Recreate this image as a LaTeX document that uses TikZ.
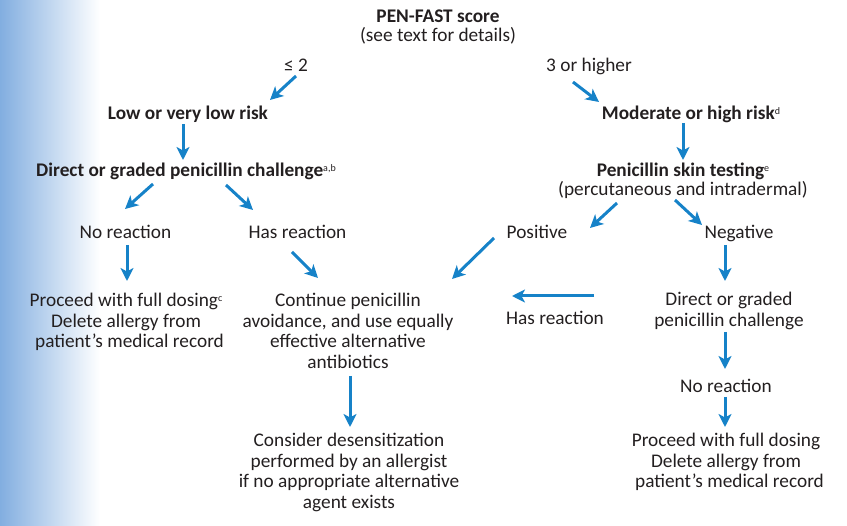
\documentclass[tikz,border=0pt]{standalone}
\usepackage{fontspec}
\setmainfont{Carlito}
\usetikzlibrary{arrows.meta}
\definecolor{arrblue}{RGB}{22,130,200}
\definecolor{gradblue}{RGB}{130,174,224}
\definecolor{txt}{RGB}{35,31,32}
\newcommand\supmark[1]{\raisebox{0.62ex}{\fontsize{10}{10}\selectfont\mdseries #1}}
\tikzset{
  arr/.style={draw=arrblue, line width=3pt, -{Stealth[length=13pt,width=13pt,inset=3.5pt]}},
  lbl/.style={text=txt, inner sep=0pt, anchor=base, align=center, font=\fontsize{19.3}{20.5}\selectfont},
  blbl/.style={lbl, font=\fontsize{19.3}{20.5}\selectfont\bfseries},
}
\begin{document}
\begin{tikzpicture}[x=1pt,y=-1pt]
\useasboundingbox (0,0) rectangle (847,526);
\shade[left color=gradblue, right color=white] (0,0) rectangle (100,526);

% text nodes (multi-line nodes are placed at the baseline of their last line)
\node[lbl, font=\fontsize{19.3}{19}\selectfont] (title) at (438,42) {\textbf{PEN-FAST score}\\(see text for details)};
\node[lbl] (le2) at (296,72) {≤ 2};
\node[lbl] (ge3) at (589,72) {3 or higher};
\node[blbl] (low) at (188,120) {Low or very low risk};
\node[blbl] (mod) at (691,120) {Moderate or high risk\supmark{d}};
\node[blbl] (dgl) at (186,177) {Direct or graded penicillin challenge\supmark{a,b}};
\node[lbl, font=\fontsize{19.3}{18.5}\selectfont] (skin) at (683,195.5) {\textbf{Penicillin skin testing}\supmark{e}\\(percutaneous and intradermal)};
\node[lbl] (nrl) at (125.5,239) {No reaction};
\node[lbl] (hrl) at (297.5,239) {Has reaction};
\node[lbl] (pos) at (537,239) {Positive};
\node[lbl] (neg) at (739,239) {Negative};
\node[lbl] (pfl) at (126,348) {Proceed with full dosing\supmark{c}\\Delete allergy from\\\hspace*{7pt}patient’s medical record};
\node[lbl] (cont) at (348,368.5) {Continue penicillin\\avoidance, and use equally\\effective alternative\\antibiotics};
\node[lbl] (hrr) at (555,325) {Has reaction};
\node[lbl] (dgr) at (729,326.5) {Direct or graded\\penicillin challenge};
\node[lbl] (nrr) at (726,393) {No reaction};
\node[lbl] (cons) at (349,508.5) {Consider desensitization\\performed by an allergist\\if no appropriate alternative\\agent exists};
\node[lbl] (pfr) at (726,488) {Proceed with full dosing\\Delete allergy from\\\hspace*{7pt}patient’s medical record};

% arrow end points
\coordinate (a1s) at (296,76);  \coordinate (a1e) at (270,100);
\coordinate (a2s) at (573,82);  \coordinate (a2e) at (599,102);
\coordinate (a3s) at (183,124); \coordinate (a3e) at (183,160);
\coordinate (a4s) at (683,123); \coordinate (a4e) at (683,160);
\coordinate (a5s) at (153,184); \coordinate (a5e) at (125,209);
\coordinate (a6s) at (226,185); \coordinate (a6e) at (253,210);
\coordinate (a7s) at (127,245); \coordinate (a7e) at (127,281);
\coordinate (a8s) at (292,252); \coordinate (a8e) at (318,278);
\coordinate (a9s) at (617,203); \coordinate (a9e) at (590,228);
\coordinate (a10s) at (675,200); \coordinate (a10e) at (702,225);
\coordinate (a11s) at (494,238); \coordinate (a11e) at (452,279);
\coordinate (a12s) at (594,296); \coordinate (a12e) at (512,296);
\coordinate (a13s) at (725,245); \coordinate (a13e) at (725,281);
\coordinate (a14s) at (725,332); \coordinate (a14e) at (725,369);
\coordinate (a15s) at (725,397); \coordinate (a15e) at (725,427);
\coordinate (a16s) at (350,376); \coordinate (a16e) at (350,427);

\draw[arr] (a1s) -- (a1e);
\draw[arr] (a2s) -- (a2e);
\draw[arr] (a3s) -- (a3e);
\draw[arr] (a4s) -- (a4e);
\draw[arr] (a5s) -- (a5e);
\draw[arr] (a6s) -- (a6e);
\draw[arr] (a7s) -- (a7e);
\draw[arr] (a8s) -- (a8e);
\draw[arr] (a9s) -- (a9e);
\draw[arr] (a10s) -- (a10e);
\draw[arr] (a11s) -- (a11e);
\draw[arr] (a12s) -- (a12e);
\draw[arr] (a13s) -- (a13e);
\draw[arr] (a14s) -- (a14e);
\draw[arr] (a15s) -- (a15e);
\draw[arr] (a16s) -- (a16e);
\end{tikzpicture}
\end{document}
